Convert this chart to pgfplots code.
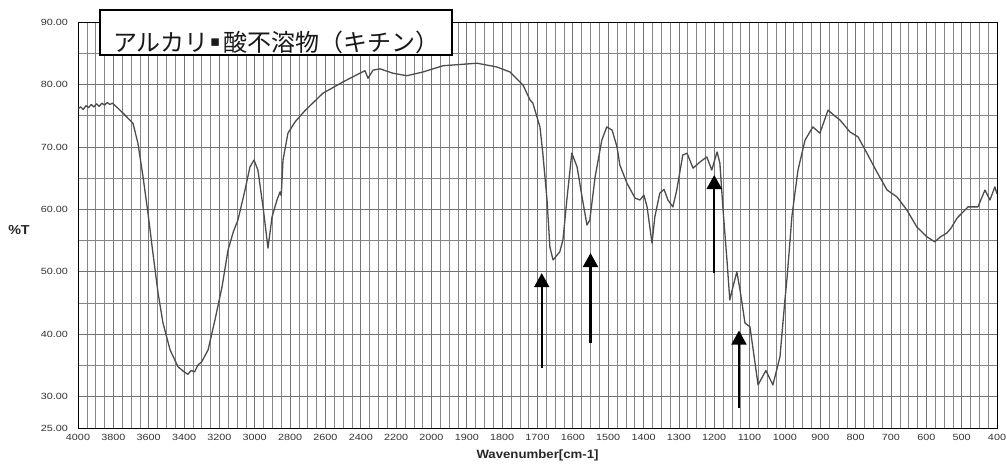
\documentclass[border=0pt]{standalone}
\usepackage{fontspec}
\setmainfont{Liberation Sans}
\newfontfamily\tickfont{Liberation Sans}[FakeStretch=1.2]
\newfontfamily\labfont{Liberation Sans}[FakeStretch=1.1]
\newfontfamily\cjk{Noto Sans CJK JP}
\newfontfamily\dejavu{DejaVu Sans}
\usepackage{pgfplots}
\pgfplotsset{compat=1.18}
\usepackage{pgfplotstable}
\usetikzlibrary{arrows.meta}

\pgfplotstableread{
wn T
4000 76.1
3985 76.4
3970 76.0
3955 76.6
3940 76.3
3925 76.8
3910 76.4
3895 76.9
3880 76.5
3865 77.0
3850 76.7
3835 77.1
3820 76.8
3805 77.0
3790 76.6
3774 76.2
3745 75.4
3717 74.6
3689 73.8
3661 70.6
3632 65.2
3604 59.4
3576 53.0
3547 46.6
3519 41.8
3479 37.5
3434 34.8
3400 34.0
3378 33.6
3360 34.2
3340 34.0
3321 35.1
3300 35.6
3264 37.5
3225 42.3
3185 47.6
3151 53.5
3120 56.5
3095 58.3
3055 63.1
3027 66.8
3004 67.9
2982 66.3
2953 60.4
2925 53.8
2902 58.8
2874 61.5
2857 62.8
2850 62.2
2840 67.9
2812 72.2
2772 74.0
2716 75.8
2614 78.6
2501 80.4
2405 81.8
2376 82.2
2359 81.0
2330 82.3
2291 82.5
2218 81.8
2139 81.4
2048 82.0
1967 83.0
1871 83.4
1815 82.8
1778 82.0
1741 79.9
1721 77.5
1713 77.0
1699 74.3
1693 73.2
1685 69.0
1673 61.5
1665 54.0
1656 51.9
1637 53.2
1628 55.1
1617 61.5
1603 69.0
1588 66.8
1574 62.0
1560 57.5
1552 58.3
1537 65.2
1518 71.1
1504 73.2
1489 72.7
1475 70.0
1467 67.1
1447 64.2
1424 61.8
1410 61.5
1399 62.3
1390 60.4
1376 54.6
1368 58.8
1354 62.6
1342 63.2
1331 61.5
1317 60.4
1306 63.1
1289 68.7
1277 69.0
1260 66.6
1240 67.6
1221 68.4
1207 66.3
1192 69.2
1184 67.4
1175 59.9
1164 51.9
1156 45.5
1147 47.6
1136 50.0
1127 47.1
1113 41.8
1099 41.2
1091 38.0
1076 31.9
1054 34.2
1034 31.9
1014 36.4
1000 45.5
994 49.0
980 59.0
963 66.3
943 71.1
921 73.2
901 72.2
878 75.9
860 75.0
844 74.3
816 72.4
793 71.6
768 69.0
740 66.0
711 63.1
683 62.0
655 59.9
627 57.2
598 55.6
576 54.8
560 55.6
542 56.2
530 57.0
513 58.6
482 60.4
454 60.4
434 63.1
420 61.5
406 63.6
400 62.5
}\spectrum

\begin{document}
\begin{tikzpicture}
\useasboundingbox (-78pt,-37pt) rectangle (929pt,428pt);
\begin{axis}[
  at={(0pt,0pt)}, anchor=south west,
  scale only axis, width=919pt, height=406pt,
  xmin=0, xmax=26, ymin=25, ymax=90,
  xtick={0,...,26},
  xticklabels={4000,3800,3600,3400,3200,3000,2800,2600,2400,2200,2000,1900,1800,1700,1600,1500,1400,1300,1200,1100,1000,900,800,700,600,500,400},
  minor x tick num=3,
  ytick={25,30,40,50,60,70,80,90},
  minor ytick={35,45,55,65,75,85},
  yticklabel={\pgfmathprintnumber[fixed,fixed zerofill,precision=2]{\tick}},
  /pgf/number format/assume math mode=true,
  major tick length=0pt, minor tick length=0pt,
  grid=both,
  major grid style={draw=black!55, line width=0.7pt},
  minor grid style={draw=black!48, line width=0.55pt},
  axis line style={black, line width=0.8pt},
  ticklabel style={font=\tickfont\fontsize{9}{9}\selectfont, text=black!80},
  xticklabel style={inner sep=0pt, anchor=north, yshift=-6pt},
  yticklabel style={inner sep=0pt, anchor=east, xshift=-10pt},
  xlabel={Wavenumber[cm-1]},
  ylabel={\%T},
  every axis x label/.style={at={(axis description cs:0.5,0)}, anchor=center, yshift=-27pt, font=\labfont\bfseries\fontsize{12}{12}\selectfont, text=black!85},
  every axis y label/.style={at={(axis description cs:0,0.488)}, anchor=center, xshift=-59pt, font=\labfont\bfseries\fontsize{13}{13}\selectfont, text=black!85},
]
\addplot[line width=1.3pt, color=black!70, line join=round, mark=none]
  table[x expr={ifthenelse(\thisrow{wn}>1999.5,(4000-\thisrow{wn})/200,10+(2000-\thisrow{wn})/100)}, y=T] {\spectrum};
\draw[-{Triangle[width=15pt,length=14pt]}, line width=1.8pt] (axis cs:13.12,34.6) -- (axis cs:13.12,49.8);
\draw[-{Triangle[width=15pt,length=14pt]}, line width=2.3pt] (axis cs:14.50,38.6) -- (axis cs:14.50,53.0);
\draw[-{Triangle[width=15pt,length=14pt]}, line width=2.3pt] (axis cs:18.00,49.8) -- (axis cs:18.00,65.5);
\draw[-{Triangle[width=15pt,length=14pt]}, line width=1.8pt] (axis cs:18.70,28.2) -- (axis cs:18.70,40.6);
\end{axis}
\draw[line width=1.4pt, fill=white] (22pt,373pt) rectangle (374pt,418pt);
\node[anchor=west, inner sep=0pt, text=black!90] at (35pt,386pt) {\cjk\fontsize{24}{24}\selectfont アルカリ\hspace{2pt}\raisebox{5pt}{\dejavu\fontsize{15}{15}\selectfont ▪}\hspace{3pt}酸不溶物（キチン）};
\end{tikzpicture}
\end{document}
